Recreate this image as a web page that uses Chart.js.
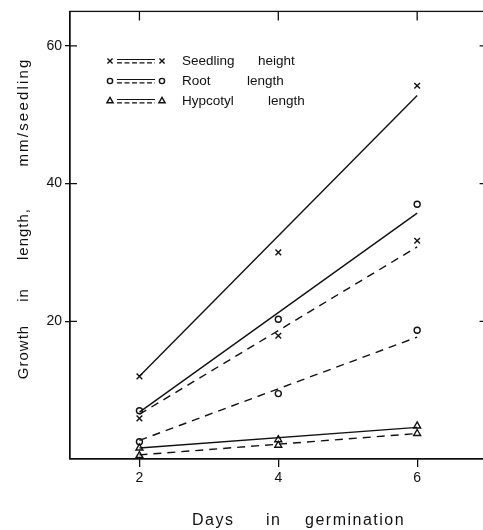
<!DOCTYPE html>
<html>
<head>
<meta charset="utf-8">
<script src="https://cdn.jsdelivr.net/npm/chart.js@4/dist/chart.umd.min.js"></script>
<style>
    html, body { margin: 0; padding: 0; background: #fff; overflow: hidden; }
    #wrap { width: 492px; height: 530px; position: relative; }
</style>
</head>
<body>
<div id="wrap"><canvas id="growth-chart"></canvas></div>
<script>
// 发芽天数与幼苗生长
const days = [2, 4, 6];
const fitDays = [2, 6];

const seedlingSolid = [12, 30, 54.2];
const seedlingSolidFit = [12, 52.8];
const seedlingDashed = [5.9, 17.9, 31.7];
const seedlingDashedFit = [6.5, 30.8];

const rootSolid = [7, 20.3, 37];
const rootSolidFit = [6.8, 35.7];
const rootDashed = [2.5, 9.5, 18.7];
const rootDashedFit = [2.7, 17.7];

const hypoSolid = [1.6, 2.8, 4.8];
const hypoSolidFit = [1.6, 4.6];
const hypoDashed = [0.5, 2.0, 3.7];
const hypoDashedFit = [0.6, 3.7];

const xTicks = [2, 4, 6];
const yTicks = [20, 40, 60];
const legendNames = [['Seedling', 'height'], ['Root', 'length'], ['Hypcotyl', 'length']];
const legendStyles = ['crossRot', 'circle', 'triangle'];
const xTitleWords = ['Days', 'in', 'germination'];
const yTitleWords = ['Growth', 'in', 'length,', 'mm/seedling'];

const INK = '#111';
const FONT = '"Liberation Sans", Arial, sans-serif';

function pts(xs, ys) {
    return xs.map((x, i) => ({ x, y: ys[i] }));
}

function fitLine(values, dashed) {
    return {
        type: 'line',
        data: pts(fitDays, values),
        borderColor: INK,
        borderWidth: 1.4,
        borderDash: dashed ? [8, 6] : [],
        pointRadius: 0,
        fill: false,
        order: 2
    };
}

function marks(values, style) {
    return {
        type: 'scatter',
        data: pts(days, values),
        pointStyle: style,
        pointRadius: style === 'circle' ? 3 : 4,
        pointBorderColor: INK,
        pointBackgroundColor: 'rgba(0,0,0,0)',
        pointBorderWidth: 1.4,
        showLine: false,
        order: 1
    };
}

const framePlugin = {
    id: 'frame',
    afterDraw(chart) {
        const { ctx, chartArea: a, scales } = chart;
        const xs = scales.x, ys = scales.y;
        ctx.save();
        ctx.strokeStyle = INK;
        ctx.lineWidth = 1.3;
        ctx.setLineDash([]);
        ctx.strokeRect(a.left, a.top, a.right - a.left, a.bottom - a.top);

        // 内侧刻度
        ctx.beginPath();
        xTicks.forEach(v => {
            const px = xs.getPixelForValue(v);
            ctx.moveTo(px, a.top);
            ctx.lineTo(px, a.top + 9);
        });
        yTicks.forEach(v => {
            const py = ys.getPixelForValue(v);
            ctx.moveTo(a.left, py);
            ctx.lineTo(a.left + 7, py);
            ctx.moveTo(a.right, py);
            ctx.lineTo(a.right - 7, py);
        });
        ctx.stroke();

        // 图例
        ctx.font = '13.5px ' + FONT;
        ctx.textBaseline = 'middle';
        const rows = [61, 81, 101];
        const secondWordX = [258, 247, 268];
        legendNames.forEach((name, i) => {
            const y = rows[i];
            const opts = { pointStyle: legendStyles[i], radius: i === 1 ? 2.6 : 3.6, borderWidth: 1.4 };
            ctx.lineWidth = 1.4;
            ctx.fillStyle = 'rgba(0,0,0,0)';
            Chart.helpers.drawPoint(ctx, opts, 110, y);
            Chart.helpers.drawPoint(ctx, opts, 162, y);
            ctx.lineWidth = 1.2;
            ctx.beginPath();
            ctx.setLineDash([]);
            ctx.moveTo(117, y - 1.5);
            ctx.lineTo(155, y - 1.5);
            ctx.stroke();
            ctx.beginPath();
            ctx.setLineDash([5, 2.5]);
            ctx.moveTo(117, y + 1.8);
            ctx.lineTo(155, y + 1.8);
            ctx.stroke();
            ctx.setLineDash([]);
            ctx.fillStyle = INK;
            ctx.fillText(name[0], 182, y);
            ctx.fillText(name[1], secondWordX[i], y);
        });

        // 坐标轴标题
        ctx.fillStyle = INK;
        ctx.font = '16px ' + FONT;
        ctx.letterSpacing = '1.5px';
        ctx.textBaseline = 'alphabetic';
        ctx.textAlign = 'left';
        const xWordX = [192, 266, 305];
        xTitleWords.forEach((w, i) => ctx.fillText(w, xWordX[i], 525));

        ctx.translate(28, 0);
        ctx.rotate(-Math.PI / 2);
        ctx.font = '15px ' + FONT;
        ctx.textAlign = 'center';
        const yWordPos = [352, 295, 234, 112];
        yTitleWords.forEach((w, i) => {
            ctx.letterSpacing = i === 3 ? '2.2px' : '1px';
            ctx.fillText(w, -yWordPos[i], 0);
        });
        ctx.restore();
    }
};

new Chart(document.getElementById('growth-chart').getContext('2d'), {
    type: 'line',
    data: {
        datasets: [
            fitLine(seedlingSolidFit, false),
            fitLine(seedlingDashedFit, true),
            fitLine(rootSolidFit, false),
            fitLine(rootDashedFit, true),
            fitLine(hypoSolidFit, false),
            fitLine(hypoDashedFit, true),
            marks(seedlingSolid, 'crossRot'),
            marks(seedlingDashed, 'crossRot'),
            marks(rootSolid, 'circle'),
            marks(rootDashed, 'circle'),
            marks(hypoSolid, 'triangle'),
            marks(hypoDashed, 'triangle')
        ]
    },
    options: {
        responsive: true,
        maintainAspectRatio: false,
        animation: false,
        layout: { padding: { top: 11, right: 3.5, left: 0, bottom: 0 } },
        scales: {
            x: {
                type: 'linear',
                min: 1,
                max: 7,
                afterBuildTicks: s => { s.ticks = xTicks.map(v => ({ value: v })); },
                afterFit: s => { s.height = 71; },
                grid: { drawOnChartArea: false, drawTicks: true, tickLength: 8, color: INK, lineWidth: 1.3 },
                border: { display: true, color: INK, width: 1.3 },
                ticks: { color: INK, padding: 3, font: { family: FONT, size: 14 } }
            },
            y: {
                type: 'linear',
                min: 0,
                max: 65,
                afterBuildTicks: s => { s.ticks = yTicks.map(v => ({ value: v })); },
                afterFit: s => { s.width = 70; },
                grid: { drawOnChartArea: false, drawTicks: true, tickLength: 5, color: INK, lineWidth: 1.3 },
                border: { display: true, color: INK, width: 1.3 },
                ticks: { color: INK, padding: 3, font: { family: FONT, size: 14 } }
            }
        },
        plugins: {
            legend: { display: false },
            tooltip: { enabled: false }
        }
    },
    plugins: [framePlugin]
});
</script>
</body>
</html>
